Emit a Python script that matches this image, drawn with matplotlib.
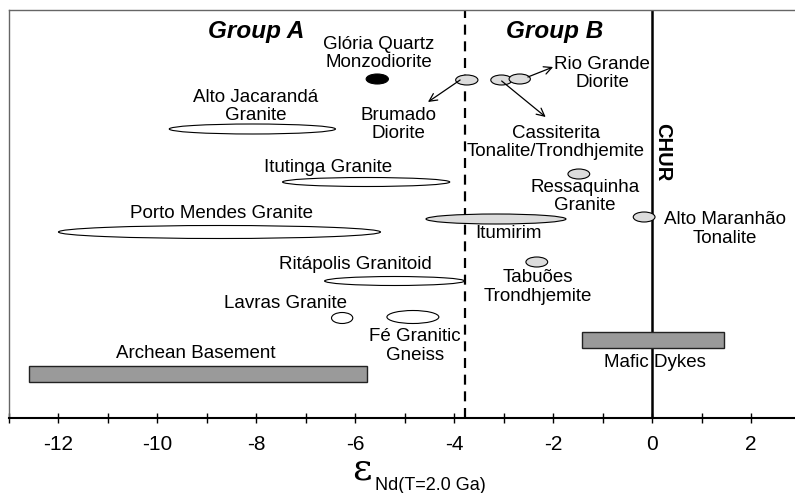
import matplotlib
matplotlib.use("Agg")
import matplotlib.pyplot as plt
from matplotlib.patches import Ellipse, Rectangle

plt.rcParams['font.family'] = ['Liberation Sans', 'DejaVu Sans']
plt.rcParams['axes.unicode_minus'] = False

# eNd ranges (T = 2.0 Ga)
units = ["Glória Quartz Monzodiorite", "Brumado Diorite", "Cassiterita", "Rio Grande Diorite",
         "Alto Jacarandá Granite", "Itutinga Granite", "Porto Mendes Granite", "Itumirim",
         "Ressaquinha Granite", "Alto Maranhão Tonalite", "Tabuões Trondhjemite",
         "Ritápolis Granitoid", "Lavras Granite", "Fé Granitic Gneiss"]
eps_lo = [-5.78, -3.97, -3.26, -2.89, -9.76, -7.47, -12.0, -4.57, -1.70, -0.38, -2.55, -6.62, -6.48, -5.36]
eps_hi = [-5.33, -3.52, -2.83, -2.46, -6.40, -4.09, -5.49, -1.74, -1.26, 0.06, -2.11, -3.79, -6.05, -4.31]
fills = ["black", "#dcdcdc", "#dcdcdc", "#dcdcdc", "white", "white", "white", "#dcdcdc",
         "#dcdcdc", "#dcdcdc", "#dcdcdc", "white", "white", "white"]
rows = [79, 80, 80, 79, 129, 182, 232, 219, 174, 217, 262, 281, 318, 317]
hgt = [10, 10, 10, 10, 10, 9, 13, 10, 10, 10, 10, 9, 11, 13]

bars = ["Archean Basement", "Mafic Dykes"]
bar_lo = [-12.59, -1.42]
bar_hi = [-5.77, 1.46]
bar_rows = [374, 339.5]

group_split = -3.79

fig = plt.figure(figsize=(7.95, 4.93), dpi=100)
ax = fig.add_axes([9 / 795, 75 / 493, 786 / 795, 408 / 493])
ax.set_xlim(-13.0, 2.89)
ax.set_ylim(418, 10)

for lo, hi, y, h, fc in zip(eps_lo, eps_hi, rows, hgt, fills):
    ax.add_patch(Ellipse(((lo + hi) / 2, y), hi - lo, h, facecolor=fc,
                         edgecolor="black", lw=0.8, zorder=3))

for lo, hi, y in zip(bar_lo, bar_hi, bar_rows):
    ax.add_patch(Rectangle((lo, y - 8), hi - lo, 16, facecolor="#9a9a9a",
                           edgecolor="#222222", lw=1, zorder=3))

ax.axvline(group_split, color="black", lw=1.6, ls=(0, (4.5, 3)), zorder=2)
ax.axvline(0, color="black", lw=1.8, zorder=2)

fs = 13.5
ax.text(-8.0, 31, "Group A", fontsize=17.5, fontweight="bold", style="italic", ha="center", va="center")
ax.text(-1.96, 31, "Group B", fontsize=17.5, fontweight="bold", style="italic", ha="center", va="center")

labels = [
    (-5.53, 53.5, "Glória Quartz\nMonzodiorite", "center"),
    (-8.02, 106.5, "Alto Jacarandá\nGranite", "center"),
    (-5.12, 124.5, "Brumado\nDiorite", "center"),
    (-1.01, 73.5, "Rio Grande\nDiorite", "center"),
    (-1.94, 142.5, "Cassiterita\nTonalite/Trondhjemite", "center"),
    (-6.54, 167, "Itutinga Granite", "center"),
    (-8.70, 213, "Porto Mendes Granite", "center"),
    (-1.36, 196.5, "Ressaquinha\nGranite", "center"),
    (1.48, 229, "Alto Maranhão\nTonalite", "center"),
    (-3.58, 233, "Itumirim", "left"),
    (-5.99, 264, "Ritápolis Granitoid", "center"),
    (-2.31, 287, "Tabuões\nTrondhjemite", "center"),
    (-7.41, 303, "Lavras Granite", "center"),
    (-4.80, 346, "Fé Granitic\nGneiss", "center"),
    (-9.23, 353, "Archean Basement", "center"),
    (0.06, 362, "Mafic Dykes", "center"),
]
for x, y, s, ha in labels:
    ax.text(x, y, s, fontsize=fs, ha=ha, va="center", multialignment="center",
            linespacing=1.1, zorder=4)

ax.text(0.22, 152, "CHUR", fontsize=14.5, fontweight="bold", rotation=-90,
        ha="center", va="center")

arrows = [((-3.88, 80), (-4.53, 102)), ((-3.04, 81), (-2.15, 117)), ((-2.51, 77), (-2.00, 67))]
for tail, head in arrows:
    ax.annotate("", xy=head, xytext=tail,
                arrowprops=dict(arrowstyle="->", color="black", lw=0.9,
                                shrinkA=0, shrinkB=0, mutation_scale=14), zorder=5)

ax.set_xticks(range(-13, 3))
ax.set_xticklabels([str(t) if t % 2 == 0 else "" for t in range(-13, 3)], fontsize=15)
ax.set_yticks([])
ax.tick_params(axis="x", direction="inout", length=7, width=1, pad=9)
ax.spines["right"].set_visible(False)
ax.spines["bottom"].set_linewidth(1.5)
for s in ["left", "top"]:
    ax.spines[s].set_color("#666666")
    ax.spines[s].set_linewidth(1)

fig.text(352 / 795, 1 - 470 / 493, "ε", fontsize=27, family="DejaVu Serif", ha="left", va="center")
fig.text(375 / 795, 1 - 486 / 493, "Nd(T=2.0 Ga)", fontsize=13, ha="left", va="center")

fig.savefig("out.png", dpi=100)
